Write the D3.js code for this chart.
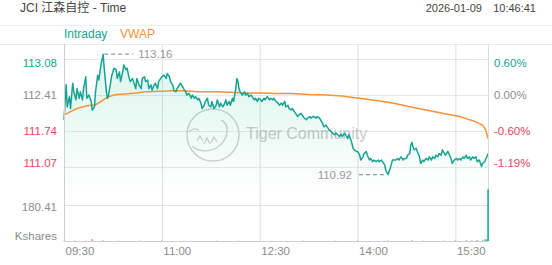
<!DOCTYPE html>
<html>
<head>
<meta charset="utf-8">
<script src="https://cdn.jsdelivr.net/npm/d3@7"></script>
<style>
  html, body { margin: 0; padding: 0; background: #fff; }
  svg { display: block; font-family: "Liberation Sans", Arial, "Noto Sans CJK SC", sans-serif; }
</style>
</head>
<body>
<div id="root"></div>
<script>
// chart values
const title = 'JCI 江森自控 - Time';
const stamp = ['2026-01-09', '10:46:41'];
const legendNames = ['Intraday', 'VWAP'];
const prevClose = 112.41;
const priceTicks = [113.08, 112.41, 111.74, 111.07];
const volumeTick = 180.41;
const volumeUnit = 'Kshares';
const timeTicks = ['09:30', '11:00', '12:30', '14:00', '15:30'];
const session = ['09:30', '16:00'];
const high = ['10:06', 113.16];
const low = ['14:28', 110.92];

const intraday = [
  ['09:30', 111.94], ['09:32', 112.59], ['09:33', 112.18], ['09:35', 112.37], ['09:36', 112.15],
  ['09:38', 112.62], ['09:39', 112.46], ['09:41', 112.31], ['09:42', 112.52], ['09:44', 112.34],
  ['09:45', 112.46], ['09:47', 112.31], ['09:48', 112.52], ['09:50', 112.74], ['09:51', 112.34],
  ['09:53', 112.40], ['09:55', 112.28], ['09:56', 112.12], ['09:58', 112.18], ['09:59', 112.46],
  ['10:01', 112.77], ['10:02', 112.68], ['10:04', 112.96], ['10:06', 113.16], ['10:07', 112.90],
  ['10:09', 112.46], ['10:10', 112.34], ['10:11', 112.40], ['10:13', 112.65], ['10:14', 112.77],
  ['10:16', 112.90], ['10:18', 112.87], ['10:19', 112.71], ['10:21', 112.83], ['10:22', 112.65],
  ['10:24', 112.83], ['10:25', 112.96], ['10:27', 112.87], ['10:28', 112.90], ['10:30', 112.71],
  ['10:31', 112.65], ['10:33', 112.71], ['10:34', 112.65], ['10:36', 112.52], ['10:37', 112.71],
  ['10:39', 112.59], ['10:41', 112.52], ['10:42', 112.71], ['10:44', 112.74], ['10:45', 112.65],
  ['10:47', 112.68], ['10:48', 112.52], ['10:50', 112.59], ['10:51', 112.49], ['10:53', 112.59],
  ['10:54', 112.62], ['10:56', 112.52], ['10:57', 112.65], ['10:59', 112.71], ['11:00', 112.74],
  ['11:02', 112.77], ['11:04', 112.71], ['11:05', 112.80], ['11:07', 112.74], ['11:08', 112.65],
  ['11:10', 112.59], ['11:11', 112.49], ['11:13', 112.46], ['11:14', 112.52], ['11:16', 112.59],
  ['11:17', 112.62], ['11:19', 112.56], ['11:20', 112.52], ['11:22', 112.46], ['11:23', 112.40],
  ['11:25', 112.43], ['11:27', 112.34], ['11:28', 112.40], ['11:30', 112.34], ['11:31', 112.37],
  ['11:33', 112.31], ['11:34', 112.34], ['11:36', 112.25], ['11:37', 112.15], ['11:39', 112.21],
  ['11:40', 112.28], ['11:42', 112.34], ['11:43', 112.21], ['11:45', 112.18], ['11:46', 112.28],
  ['11:48', 112.15], ['11:50', 112.21], ['11:51', 112.31], ['11:53', 112.18], ['11:54', 112.25],
  ['11:56', 112.18], ['11:57', 112.21], ['11:59', 112.31], ['12:00', 112.21], ['12:02', 112.28],
  ['12:03', 112.21], ['12:05', 112.34], ['12:06', 112.28], ['12:08', 112.52], ['12:09', 112.71],
  ['12:10', 112.65], ['12:11', 112.52], ['12:12', 112.46], ['12:14', 112.40], ['12:16', 112.46],
  ['12:17', 112.40], ['12:19', 112.43], ['12:20', 112.37], ['12:22', 112.40], ['12:23', 112.37],
  ['12:25', 112.31], ['12:26', 112.34], ['12:28', 112.28], ['12:29', 112.34], ['12:31', 112.31],
  ['12:32', 112.28], ['12:34', 112.34], ['12:35', 112.31], ['12:37', 112.37], ['12:39', 112.31],
  ['12:40', 112.34], ['12:42', 112.31], ['12:43', 112.34], ['12:45', 112.28], ['12:47', 112.25],
  ['12:48', 112.21], ['12:50', 112.25], ['12:51', 112.21], ['12:53', 112.28], ['12:54', 112.18],
  ['12:56', 112.21], ['12:57', 112.15], ['12:59', 112.12], ['13:00', 112.15], ['13:02', 112.09],
  ['13:03', 112.06], ['13:05', 112.00], ['13:06', 112.03], ['13:08', 112.06], ['13:10', 112.00],
  ['13:11', 111.97], ['13:13', 111.94], ['13:14', 111.97], ['13:16', 112.00], ['13:17', 111.97],
  ['13:19', 112.00], ['13:20', 112.00], ['13:22', 111.97], ['13:23', 112.00], ['13:25', 111.97],
  ['13:26', 111.94], ['13:28', 111.87], ['13:29', 111.81], ['13:31', 111.84], ['13:33', 111.78],
  ['13:34', 111.75], ['13:36', 111.72], ['13:37', 111.69], ['13:39', 111.66], ['13:40', 111.69],
  ['13:42', 111.66], ['13:43', 111.63], ['13:45', 111.67], ['13:46', 111.63], ['13:48', 111.69],
  ['13:49', 111.66], ['13:51', 111.59], ['13:52', 111.66], ['13:54', 111.56], ['13:56', 111.41],
  ['13:57', 111.38], ['13:59', 111.35], ['14:00', 111.35], ['14:02', 111.28], ['14:03', 111.19],
  ['14:05', 111.25], ['14:06', 111.31], ['14:08', 111.35], ['14:09', 111.28], ['14:11', 111.19],
  ['14:12', 111.22], ['14:14', 111.16], ['14:15', 111.19], ['14:17', 111.16], ['14:19', 111.19],
  ['14:20', 111.16], ['14:22', 111.19], ['14:23', 111.16], ['14:25', 111.10], ['14:26', 111.00],
  ['14:28', 110.92], ['14:29', 110.97], ['14:31', 111.10], ['14:32', 111.19], ['14:34', 111.19],
  ['14:35', 111.19], ['14:37', 111.22], ['14:38', 111.19], ['14:40', 111.25], ['14:42', 111.19],
  ['14:43', 111.22], ['14:45', 111.22], ['14:46', 111.28], ['14:48', 111.31], ['14:49', 111.47],
  ['14:50', 111.52], ['14:51', 111.44], ['14:52', 111.38], ['14:54', 111.41], ['14:55', 111.35],
  ['14:57', 111.25], ['14:58', 111.13], ['15:00', 111.19], ['15:01', 111.16], ['15:03', 111.22],
  ['15:05', 111.19], ['15:06', 111.25], ['15:08', 111.19], ['15:09', 111.25], ['15:11', 111.22],
  ['15:12', 111.28], ['15:14', 111.25], ['15:15', 111.31], ['15:17', 111.28], ['15:18', 111.38],
  ['15:20', 111.31], ['15:21', 111.28], ['15:23', 111.35], ['15:24', 111.31], ['15:26', 111.22],
  ['15:27', 111.13], ['15:29', 111.19], ['15:31', 111.22], ['15:32', 111.19], ['15:34', 111.22],
  ['15:35', 111.19], ['15:37', 111.25], ['15:38', 111.22], ['15:40', 111.28], ['15:41', 111.22],
  ['15:43', 111.25], ['15:44', 111.19], ['15:46', 111.25], ['15:47', 111.22], ['15:49', 111.25],
  ['15:50', 111.16], ['15:52', 111.19], ['15:54', 111.07], ['15:55', 111.13], ['15:57', 111.16],
  ['15:58', 111.22], ['15:59', 111.25], ['16:00', 111.31]
];

const vwap = [
  ['09:30', 112.03], ['09:33', 112.06], ['09:36', 112.09], ['09:39', 112.12], ['09:42', 112.15],
  ['09:45', 112.17], ['09:48', 112.18], ['09:51', 112.20], ['09:55', 112.21], ['09:58', 112.21],
  ['10:01', 112.24], ['10:04', 112.28], ['10:07', 112.32], ['10:10', 112.36], ['10:13', 112.38],
  ['10:16', 112.40], ['10:19', 112.41], ['10:25', 112.42], ['10:31', 112.43], ['10:37', 112.44],
  ['10:44', 112.46], ['10:50', 112.46], ['10:56', 112.47], ['11:02', 112.47], ['11:08', 112.48],
  ['11:14', 112.48], ['11:20', 112.48], ['11:27', 112.47], ['11:33', 112.46], ['11:39', 112.46],
  ['11:51', 112.46], ['12:03', 112.45], ['12:16', 112.44], ['12:28', 112.44], ['12:45', 112.43],
  ['13:00', 112.43], ['13:16', 112.41], ['13:31', 112.40], ['13:46', 112.38], ['13:54', 112.36],
  ['14:02', 112.34], ['14:17', 112.30], ['14:32', 112.25], ['14:42', 112.21], ['14:48', 112.18],
  ['15:03', 112.12], ['15:18', 112.06], ['15:34', 112.00], ['15:49', 111.90], ['15:55', 111.84],
  ['15:58', 111.75], ['16:00', 111.59]
];

const volume = [
  ['09:30', 6], ['09:40', 2], ['09:50', 2], ['09:56', 10], ['10:06', 3], ['10:20', 2],
  ['10:40', 2], ['11:00', 2], ['11:20', 1], ['11:50', 2], ['12:10', 2], ['12:40', 1],
  ['13:10', 2], ['13:40', 2], ['14:00', 3], ['14:28', 3], ['14:50', 4], ['15:00', 2],
  ['15:20', 2], ['15:30', 3], ['15:40', 4], ['15:45', 3], ['15:50', 5], ['15:55', 6],
  ['15:57', 8], ['15:58', 9], ['15:59', 7], ['16:00', 256]
];

// colours
const teal = '#17a392';
const red = '#e2475f';
const orange = '#f5923a';
const labelGray = '#8c8c8c';

const width = 552, height = 265;
const left = 64, right = 488;
const priceTop = 44, priceBottom = 186, volBottom = 241;

const parseTime = d3.timeParse('%H:%M');

const x = d3.scaleTime()
  .domain(session.map(parseTime))
  .range([left, right]);

const yPrice = d3.scaleLinear()
  .domain([priceTicks[3], priceTicks[0]])
  .range([166.5, 58.5]);

const yVol = d3.scaleLinear()
  .domain([0, volumeTick])
  .range([volBottom, 204.5]);

function tickColor(p) {
  if (p > prevClose) return teal;
  if (p < prevClose) return red;
  return labelGray;
}

const svg = d3.select('#root').append('svg')
  .attr('width', width)
  .attr('height', height)
  .attr('viewBox', [0, 0, width, height]);

// header
svg.append('text')
  .attr('x', 20).attr('y', 12)
  .attr('font-size', 12).attr('fill', '#444')
  .text(title);
svg.append('text')
  .attr('x', 482).attr('y', 12)
  .attr('text-anchor', 'end')
  .attr('font-size', 11).attr('fill', '#444')
  .text(stamp[0]);
svg.append('text')
  .attr('x', 536).attr('y', 12)
  .attr('text-anchor', 'end')
  .attr('font-size', 11).attr('fill', '#444')
  .text(stamp[1]);

// legend band
svg.append('line')
  .attr('x1', 0).attr('x2', width).attr('y1', 25.5).attr('y2', 25.5)
  .attr('stroke', '#f0f0f0');
svg.append('line')
  .attr('x1', 0).attr('x2', width).attr('y1', priceTop + 0.5).attr('y2', priceTop + 0.5)
  .attr('stroke', '#ebebeb');
svg.append('text')
  .attr('x', left).attr('y', 38)
  .attr('font-size', 12).attr('fill', teal)
  .text(legendNames[0]);
svg.append('text')
  .attr('x', 120).attr('y', 38)
  .attr('font-size', 12).attr('fill', orange)
  .text(legendNames[1]);

// gradient for the area under the intraday line
const defs = svg.append('defs');
const grad = defs.append('linearGradient')
  .attr('id', 'fill')
  .attr('gradientUnits', 'userSpaceOnUse')
  .attr('x1', 0).attr('x2', 0)
  .attr('y1', 60).attr('y2', 192);
grad.append('stop').attr('offset', 0).attr('stop-color', '#1cc08f').attr('stop-opacity', 0.15);
grad.append('stop').attr('offset', 0.6).attr('stop-color', '#1cc08f').attr('stop-opacity', 0.07);
grad.append('stop').attr('offset', 1).attr('stop-color', '#1cc08f').attr('stop-opacity', 0);

// horizontal grid
svg.append('g')
  .selectAll('line')
  .data(priceTicks)
  .join('line')
  .attr('x1', left).attr('x2', right)
  .attr('y1', d => Math.round(yPrice(d)) + 0.5)
  .attr('y2', d => Math.round(yPrice(d)) + 0.5)
  .attr('stroke', '#e8e8e8');
svg.append('line')
  .attr('x1', left).attr('x2', right)
  .attr('y1', Math.round(yVol(volumeTick)) + 0.5)
  .attr('y2', Math.round(yVol(volumeTick)) + 0.5)
  .attr('stroke', '#e3e3e3');

// vertical grid from the time axis
const gridAxis = d3.axisBottom(x)
  .tickValues(timeTicks.map(parseTime))
  .tickSize(-(volBottom - priceTop))
  .tickFormat('');
svg.append('g')
  .attr('transform', `translate(0,${volBottom})`)
  .call(gridAxis)
  .call(g => g.select('.domain').remove())
  .call(g => g.selectAll('line').attr('stroke', '#dedede'));

// watermark
const wm = svg.append('g').attr('opacity', 0.6).attr('fill', 'none').attr('stroke', '#b0b0b0');
wm.append('circle').attr('cx', 213).attr('cy', 135).attr('r', 26).attr('stroke-width', 1.4);
wm.append('path')
  .attr('stroke-width', 1.4)
  .attr('d', 'M221 120 C230 124 229 138 219 146 C210 153 199 152 192 146');
wm.append('path')
  .attr('stroke-width', 1.2)
  .attr('d', 'M197 141 l3 -5 l3 5 M204 144 l3 -6 l3 6 M211 143 l3 -6 l3 5 M189 132 C193 128 197 128 199 131');
wm.append('text')
  .attr('x', 246).attr('y', 139)
  .attr('stroke', 'none').attr('fill', '#a4a4a4')
  .attr('font-size', 16)
  .text('Tiger Community');

// area + lines
const pts = intraday.map(d => ({ t: parseTime(d[0]), p: d[1] }));
const vw = vwap.map(d => ({ t: parseTime(d[0]), p: d[1] }));

svg.append('path')
  .datum(pts)
  .attr('fill', 'url(#fill)')
  .attr('d', d3.area().x(d => x(d.t)).y0(priceBottom).y1(d => yPrice(d.p)));

svg.append('path')
  .datum(vw)
  .attr('fill', 'none')
  .attr('stroke', orange)
  .attr('stroke-width', 1.5)
  .attr('d', d3.line().x(d => x(d.t)).y(d => yPrice(d.p)));

svg.append('path')
  .datum(pts)
  .attr('fill', 'none')
  .attr('stroke', teal)
  .attr('stroke-width', 1.5)
  .attr('stroke-linejoin', 'round')
  .attr('d', d3.line().x(d => x(d.t)).y(d => yPrice(d.p)));

// frame
svg.append('line')
  .attr('x1', left + 0.5).attr('x2', left + 0.5).attr('y1', priceTop).attr('y2', volBottom)
  .attr('stroke', '#cfcfcf');
svg.append('line')
  .attr('x1', right + 0.5).attr('x2', right + 0.5).attr('y1', priceTop).attr('y2', volBottom)
  .attr('stroke', '#dcdcdc');
svg.append('line')
  .attr('x1', left).attr('x2', right).attr('y1', volBottom + 0.5).attr('y2', volBottom + 0.5)
  .attr('stroke', '#cfcfcf');

// volume bars, coloured by price move (drawn over the frame)
const bisect = d3.bisector(d => d.t).right;
function moveColor(t) {
  const i = bisect(pts, t) - 1;
  if (i <= 0) return '#bbb';
  return pts[i].p >= pts[i - 1].p ? teal : red;
}
svg.append('g')
  .selectAll('rect')
  .data(volume.map(d => ({ t: parseTime(d[0]), v: d[1] })))
  .join('rect')
  .attr('x', d => x(d.t) - 0.7)
  .attr('width', 1.5)
  .attr('y', d => yVol(d.v))
  .attr('height', d => volBottom - yVol(d.v))
  .attr('fill', d => moveColor(d.t))
  .attr('opacity', d => d.v > 50 ? 1 : 0.6);

// price axis (left) and percent axis (right)
function nudge(i) {
  if (i === 0) return 4;
  if (i === priceTicks.length - 1) return -4;
  return 0;
}
svg.append('g')
  .attr('transform', `translate(${left},0)`)
  .call(d3.axisLeft(yPrice).tickValues(priceTicks).tickSize(0).tickPadding(7).tickFormat(d3.format('.2f')))
  .call(g => g.select('.domain').remove())
  .call(g => g.selectAll('text')
    .attr('font-size', 11.5)
    .attr('font-family', null)
    .attr('fill', d => tickColor(d))
    .attr('y', (d, i) => nudge(i)));

svg.append('g')
  .attr('transform', `translate(${right},0)`)
  .call(d3.axisRight(yPrice).tickValues(priceTicks).tickSize(0).tickPadding(6)
    .tickFormat(d => ((d / prevClose - 1) * 100).toFixed(2) + '%'))
  .call(g => g.select('.domain').remove())
  .call(g => g.selectAll('text')
    .attr('font-size', 11.5)
    .attr('font-family', null)
    .attr('fill', d => tickColor(d))
    .attr('y', (d, i) => nudge(i)));

// volume labels
svg.append('text')
  .attr('x', 57).attr('y', yVol(volumeTick) + 2)
  .attr('dy', '0.35em')
  .attr('text-anchor', 'end')
  .attr('font-size', 11.5).attr('fill', labelGray)
  .text(volumeTick.toFixed(2));
svg.append('text')
  .attr('x', 57).attr('y', 236)
  .attr('dy', '0.35em')
  .attr('text-anchor', 'end')
  .attr('font-size', 11.5).attr('fill', labelGray)
  .text(volumeUnit);

// time axis
svg.append('g')
  .attr('transform', `translate(0,${volBottom})`)
  .call(d3.axisBottom(x).tickValues(timeTicks.map(parseTime)).tickSize(0)
    .tickFormat(d3.timeFormat('%H:%M')))
  .call(g => g.select('.domain').remove())
  .call(g => g.selectAll('text')
    .attr('font-size', 11.5)
    .attr('font-family', null)
    .attr('fill', labelGray)
    .attr('text-anchor', 'start')
    .attr('x', 1)
    .attr('y', 6)
    .attr('dy', '0.71em'));

// high / low markers
function marker(pt, side) {
  const px = x(parseTime(pt[0]));
  const py = yPrice(pt[1]);
  const g = svg.append('g');
  const x1 = side > 0 ? px + 1 : px - 29;
  const x2 = side > 0 ? px + 30 : px - 1;
  g.append('line')
    .attr('x1', x1).attr('x2', x2).attr('y1', py).attr('y2', py)
    .attr('stroke', '#999').attr('stroke-width', 1.2)
    .attr('stroke-dasharray', '4,3');
  g.append('text')
    .attr('x', side > 0 ? px + 35 : px - 36)
    .attr('y', py).attr('dy', '0.35em')
    .attr('text-anchor', side > 0 ? 'start' : 'end')
    .attr('font-size', 11.5).attr('fill', '#999')
    .text(pt[1].toFixed(2));
}
marker(high, 1);
marker(low, -1);
</script>
</body>
</html>
